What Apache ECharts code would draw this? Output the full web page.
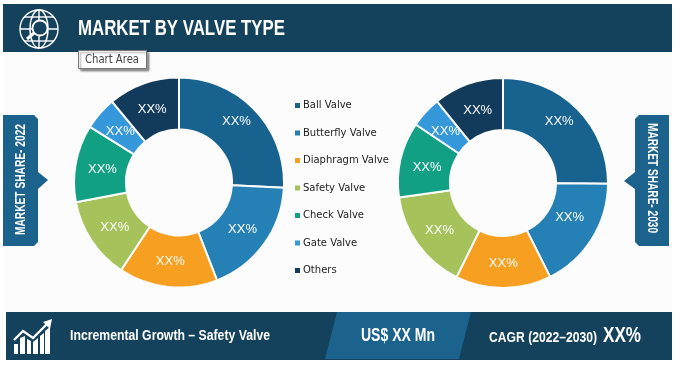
<!DOCTYPE html>
<html>
<head>
<meta charset="utf-8">
<title>Market by Valve Type</title>
<style>
  html, body { margin: 0; padding: 0; background: #fff; }
  #chart { width: 680px; height: 372px; }
</style>
<script src="https://cdn.jsdelivr.net/npm/echarts@6/dist/echarts.min.js"></script>
</head>
<body>
<div id="chart"></div>
<script>
var categories = ['Ball Valve', 'Butterfly Valve', 'Diaphragm Valve', 'Safety Valve', 'Check Valve', 'Gate Valve', 'Others'];
var share2022 = [25.8, 18.3, 15.2, 12.7, 11.9, 5.1, 11.0];
var share2030 = [25.1, 17.5, 14.7, 15.5, 11.6, 4.8, 10.8];
var colors = ['#18628f', '#2581b5', '#f79f20', '#a6c25a', '#12a085', '#3498db', '#123a5a'];

// the hand placed labels in the source sit a little off the ring centre
var labelShift2022 = [[-2, -5], [-3, -1], [0, -3], [4, -1], [4, 2], [3, 3], [1, 4]];
var labelShift2030 = [[-2, -4], [-3, -9], [0, -2], [3, -1], [4, 3], [3, 4], [2, 5]];

var dark = '#14415c';
var mid = '#1b628c';
var paper = '#fcfcfc';
var sans = '"Liberation Sans", sans-serif';

var measure = document.createElement('canvas').getContext('2d');

function pieSeries(name, values, shifts, centerX, centerY) {
  return {
    name: name,
    type: 'pie',
    radius: [53, 105],
    center: [centerX, centerY],
    startAngle: 90,
    clockwise: true,
    avoidLabelOverlap: false,
    animation: false,
    silent: true,
    itemStyle: { borderColor: paper, borderWidth: 2 },
    label: {
      show: true,
      position: 'inside',
      formatter: 'XX%',
      color: '#fff',
      fontFamily: 'Liberation Sans',
      fontSize: 13
    },
    labelLine: { show: false },
    data: categories.map(function (c, i) {
      return { name: c, value: values[i], label: { offset: shifts[i] } };
    })
  };
}

// no condensed face is installed, so squeeze the text to the width it has in the source
function text(x, y, str, size, width, opts) {
  opts = opts || {};
  var font = (opts.weight || 'bold') + ' ' + size + 'px ' + (opts.family || sans);
  measure.font = font;
  return {
    type: 'text',
    x: x,
    y: y,
    rotation: opts.rotation || 0,
    scaleX: width / measure.measureText(str).width,
    silent: true,
    style: {
      text: str,
      fill: opts.fill || '#fff',
      font: font,
      textAlign: opts.align || 'left',
      textVerticalAlign: 'middle'
    }
  };
}

function poly(points, fill) {
  return { type: 'polygon', silent: true, shape: { points: points }, style: { fill: fill } };
}

function stroke(points) {
  return {
    type: 'polyline',
    silent: true,
    shape: { points: points },
    style: { stroke: '#fff', lineWidth: 1.4, fill: 'none' }
  };
}

var globeIcon = [
  { type: 'circle', silent: true, shape: { cx: 39, cy: 29, r: 19 }, style: { stroke: '#fff', lineWidth: 1.4, fill: 'none' } },
  { type: 'ellipse', silent: true, shape: { cx: 39, cy: 29, rx: 9, ry: 19 }, style: { stroke: '#fff', lineWidth: 1.4, fill: 'none' } },
  stroke([[39, 10], [39, 48]]),
  stroke([[20, 29], [58, 29]]),
  stroke([[24, 17], [54, 17]]),
  stroke([[24, 41], [54, 41]]),
  { type: 'circle', silent: true, shape: { cx: 40, cy: 28, r: 7.5 }, style: { stroke: '#fff', lineWidth: 1.8, fill: dark } },
  { type: 'line', silent: true, shape: { x1: 34, y1: 33, x2: 27, y2: 39 }, style: { stroke: '#fff', lineWidth: 3 } }
];

var growthIcon = [
  poly([[14, 344], [18, 344], [18, 354], [14, 354]], '#fff'),
  poly([[20, 338], [25, 336], [25, 354], [20, 354]], '#fff'),
  poly([[27, 339], [31, 341], [31, 354], [27, 354]], '#fff'),
  poly([[33, 342], [38, 338], [38, 354], [33, 354]], '#fff'),
  poly([[40, 336], [44, 333], [44, 354], [40, 354]], '#fff'),
  poly([[45, 331], [50, 327], [50, 354], [45, 354]], '#fff'),
  { type: 'polyline', silent: true, shape: { points: [[14, 340], [23, 331], [33, 338], [47, 324]] }, style: { stroke: '#fff', lineWidth: 2.4, fill: 'none' } },
  poly([[52, 319], [50, 329], [43, 322]], '#fff')
];

var panels = [
  { type: 'rect', silent: true, shape: { x: 3, y: 52, width: 669, height: 260 }, style: { fill: paper } },
  { type: 'rect', silent: true, shape: { x: 3, y: 4, width: 669, height: 48 }, style: { fill: dark } },
  { type: 'rect', silent: true, shape: { x: 6, y: 312, width: 666, height: 48 }, style: { fill: dark } },
  poly([[337, 312], [471, 312], [459, 359], [325, 359]], mid),
  poly([[3, 115], [34, 115], [38, 119], [38, 172], [48, 180], [38, 189], [38, 242], [34, 246], [3, 246]], mid),
  poly([[669, 115], [639, 115], [635, 119], [635, 172], [624, 181], [635, 189], [635, 242], [639, 246], [669, 246]], mid),
  {
    type: 'rect',
    silent: true,
    shape: { x: 78.5, y: 50.5, width: 68, height: 18 },
    style: { fill: '#fff', stroke: '#777', lineWidth: 1, shadowBlur: 2, shadowOffsetX: 2, shadowOffsetY: 2, shadowColor: 'rgba(0,0,0,0.4)' }
  }
];

var labels = [
  text(78, 29, 'MARKET BY VALVE TYPE', 22, 207),
  text(85, 60, 'Chart Area', 12, 54, { fill: '#444', weight: 'normal', family: '"DejaVu Sans"' }),
  text(21, 179.5, 'MARKET SHARE- 2022', 14, 111, { rotation: Math.PI / 2, align: 'center' }),
  text(652, 178, 'MARKET SHARE- 2030', 14, 110, { rotation: -Math.PI / 2, align: 'center' }),
  text(70, 336, 'Incremental Growth – Safety Valve', 15, 200),
  text(398, 336, 'US$ XX Mn', 18, 74, { align: 'center' }),
  text(489, 338, 'CAGR (2022–2030)', 14, 108),
  text(603, 336, 'XX%', 22, 38)
];

var myChart = echarts.init(document.getElementById('chart'), null, { renderer: 'canvas' });

myChart.setOption({
  animation: false,
  backgroundColor: '#fff',
  color: colors,
  legend: {
    data: categories,
    orient: 'vertical',
    left: 290,
    top: 94,
    itemWidth: 5,
    itemHeight: 5,
    itemGap: 14.5,
    itemStyle: { borderWidth: 0 },
    icon: 'rect',
    selectedMode: false,
    textStyle: { fontFamily: 'DejaVu Sans', fontSize: 10, color: '#222', padding: [0, 0, 0, -2], lineHeight: 13 }
  },
  graphic: { elements: panels.concat(globeIcon, growthIcon, labels) },
  series: [
    pieSeries('Market share 2022', share2022, labelShift2022, 179, 182.5),
    pieSeries('Market share 2030', share2030, labelShift2030, 503, 183)
  ]
});
</script>
</body>
</html>
